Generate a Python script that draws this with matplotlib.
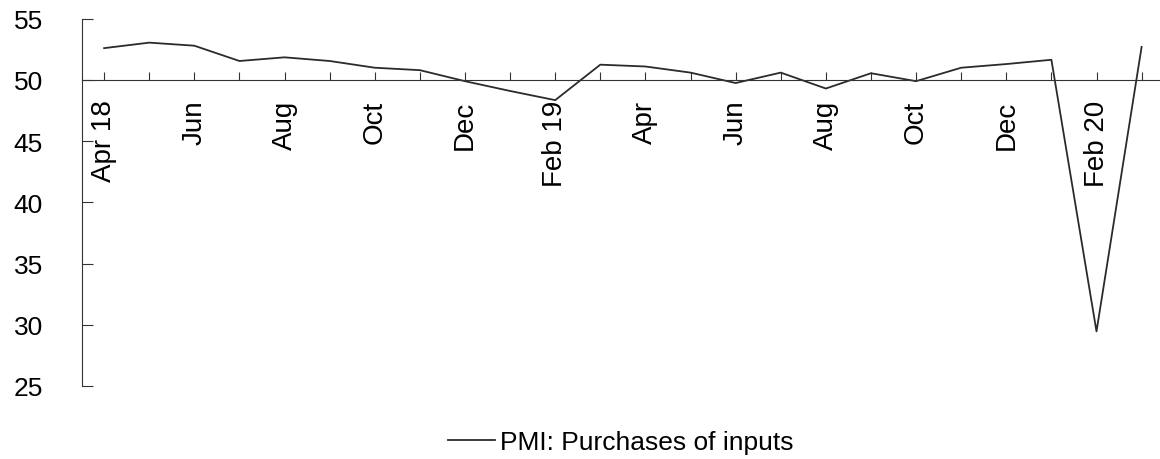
import matplotlib.pyplot as plt
import numpy as np

plt.rcParams['font.family'] = ['Liberation Sans', 'DejaVu Sans']

# monthly PMI: purchases of inputs, Apr 2018 - Mar 2020
months = ["Apr 18", "May", "Jun", "Jul", "Aug", "Sep", "Oct", "Nov", "Dec",
          "Jan 19", "Feb 19", "Mar", "Apr", "May", "Jun", "Jul", "Aug", "Sep",
          "Oct", "Nov", "Dec", "Jan 20", "Feb 20", "Mar"]
pmi = [52.6, 53.05, 52.8, 51.55, 51.85, 51.55, 51.0, 50.8, 49.9,
       49.1, 48.35, 51.25, 51.1, 50.6, 49.75, 50.6, 49.3, 50.55,
       49.9, 51.0, 51.3, 51.65, 29.45, 52.7]
labels_shown = ["Apr 18", "", "Jun", "", "Aug", "", "Oct", "", "Dec",
                "", "Feb 19", "", "Apr", "", "Jun", "", "Aug", "",
                "Oct", "", "Dec", "", "Feb 20", ""]

x = np.arange(len(months))

fig = plt.figure(figsize=(11.6, 4.6), dpi=100)
ax = fig.add_axes([0.0707, 0.159, 0.929, 0.798])

ax.plot(x, pmi, color="#2b2b2b", linewidth=1.3, label="PMI: Purchases of inputs")

# x axis crosses at 50 (set before ticks, it resets them)
ax.spines["top"].set_visible(False)
ax.spines["right"].set_visible(False)
ax.spines["bottom"].set_position(("data", 50))
ax.spines["left"].set_color("#333333")
ax.spines["bottom"].set_color("#333333")

ax.set_ylim(25, 55)
ax.set_yticks(np.arange(25, 56, 5))
ax.set_xlim(-0.49, 23.4)
ax.set_xticks(x)
ax.set_xticklabels(labels_shown, rotation=90, fontsize=20)

ax.tick_params(axis="y", direction="in", length=8, pad=28, labelsize=19, color="#333333")
ax.tick_params(axis="x", direction="in", length=6, pad=14, color="#333333")

ax.legend(loc="upper center", bbox_to_anchor=(0.5, -0.055), frameon=False,
          fontsize=19, handlelength=1.8, handletextpad=0.2)

fig.savefig("out.png", dpi=100)
